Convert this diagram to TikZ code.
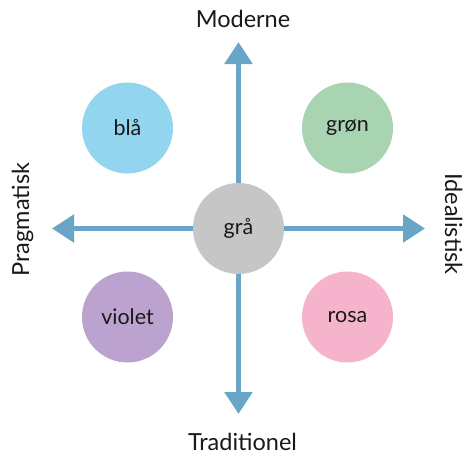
\documentclass[tikz,border=0pt]{standalone}
\usepackage{fontspec}
\setmainfont{Lato}
\usetikzlibrary{arrows.meta}
\definecolor{axisblue}{HTML}{68A5C6}
\definecolor{cblaa}{HTML}{93D4EF}
\definecolor{cgroen}{HTML}{A8D4B1}
\definecolor{cgraa}{HTML}{C6C6C6}
\definecolor{cviolet}{HTML}{BCA3CF}
\definecolor{crosa}{HTML}{F5B4CB}

\begin{document}
\begin{tikzpicture}[x=1pt,y=-1pt,
    colour/.style={circle,minimum size=91pt,inner sep=0pt,font={\fontsize{21.5}{25}\selectfont},text=black!90},
    axis/.style={line width=5.3pt,draw=axisblue,-{Triangle[width=27pt,length=22pt]}},
    pole/.style={font={\fontsize{23.5}{27}\selectfont},text=black!90}]
    \useasboundingbox (0,0) rectangle (473,461);

    \coordinate (top) at (238.5,42);
    \coordinate (bottom) at (238.5,414);
    \coordinate (left) at (52,228.5);
    \coordinate (right) at (425,228.5);

    \node[colour,fill=cgraa] (graa) at (238.5,228.5) {grå};
    \draw[axis] (graa) -- (top);
    \draw[axis] (graa) -- (bottom);
    \draw[axis] (graa) -- (left);
    \draw[axis] (graa) -- (right);

    \node[colour,fill=cblaa] (blaa) at (127.5,128) {blå};
    \node[colour,fill=cgroen] (groen) at (347.5,128) {grøn};
    \node[colour,fill=cviolet] (violet) at (127.5,317) {violet};
    \node[colour,fill=crosa] (rosa) at (347.5,317) {rosa};

    \node[pole,anchor=base] (moderne) at (243,27) {Moderne};
    \node[pole,anchor=base] (traditionel) at (242.5,450) {Traditionel};
    \node[pole,anchor=base,rotate=90] (pragmatisk) at (29,219.5) {Pragmatisk};
    \node[pole,anchor=base,rotate=-90] (idealistisk) at (445,224) {Idealistisk};
\end{tikzpicture}
\end{document}
